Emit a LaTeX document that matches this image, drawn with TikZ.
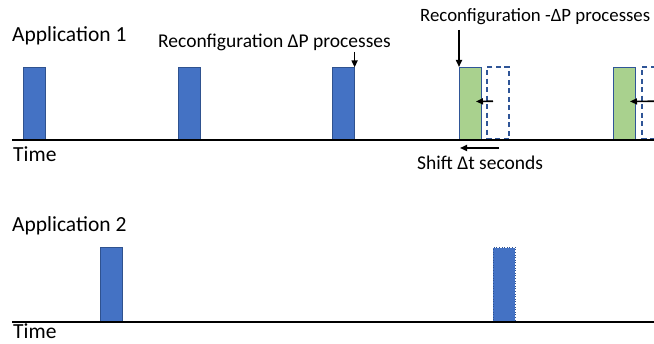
\documentclass[tikz,border=0pt]{standalone}
\usepackage{fontspec}
\setmainfont{Carlito}
\usetikzlibrary{arrows.meta,positioning}
\definecolor{barblue}{HTML}{4472C4}
\definecolor{barline}{HTML}{2F528F}
\definecolor{bargreen}{HTML}{A9D18E}
\definecolor{ghostline}{HTML}{2F5597}
\tikzset{
  bar/.style={fill=barblue, draw=barline, line width=0.6pt,
    minimum width=22pt, minimum height=72pt, inner sep=0pt,
    anchor=south west},
  newbar/.style={bar, fill=bargreen, draw=ghostline, line width=1pt},
  ghostbar/.style={bar, fill=none, draw=ghostline, line width=1.6pt,
    dash pattern=on 5pt off 3.5pt},
  timeline/.style={line width=2.4pt},
  label/.style={font=\fontsize{19.5}{23}\selectfont, inner sep=1pt, anchor=base west},
  title/.style={font=\fontsize{21.5}{26}\selectfont, inner sep=1pt, anchor=base west},
  pointer/.style={line width=1.6pt, -{Triangle[length=7pt, width=6pt]}},
}
\begin{document}
\begin{tikzpicture}[x=1pt, y=-1pt]
  \useasboundingbox (0,0) rectangle (654,344);

  % application 1
  \node[title] (app1) at (11,42) {Application 1};
  \coordinate (t1s) at (12,140);
  \coordinate (t1e) at (660,140);
  \node[bar] (b1) at (23,140) {};
  \node[bar] (b2) at (178,140) {};
  \node[bar] (b3) at (332,140) {};
  \node[ghostbar] (d1) at (486,140) {};
  \node[newbar] (g1) at (459,140) {};
  \node[ghostbar] (d2) at (641,140) {};
  \node[newbar] (g2) at (613,140) {};
  \draw[timeline] (t1s) -- (t1e);
  \node[title] (time1) at (12,162) {Time};

  \node[label] (plus) at (157,48) {Reconfiguration ΔP processes};
  \draw[pointer] ([yshift=-4pt]plus.base -| b3.north east) -- (b3.north east);
  \node[label, font=\fontsize{18.8}{23}\selectfont] (minus) at (419,22) {Reconfiguration -ΔP processes};
  \draw[pointer] ([yshift=-8pt]minus.base -| g1.north west) -- (g1.north west);

  \draw[pointer] ([xshift=7pt, yshift=2pt]d1.west) -- ([xshift=-6pt, yshift=2pt]g1.east);
  \draw[pointer] ([xshift=16pt, yshift=2pt]d2.west) -- ([xshift=-6pt, yshift=2pt]g2.east);

  \coordinate (sh1) at (499,148);
  \coordinate (sh2) at (460,148);
  \draw[pointer] (sh1) -- (sh2);
  \node[label] (shift) at (416,170) {Shift Δt seconds};

  % application 2
  \node[title] (app2) at (11,232) {Application 2};
  \coordinate (t2s) at (12,322);
  \coordinate (t2e) at (660,322);
  \node[bar, minimum height=74pt] (c1) at (100,322) {};
  \node[bar, minimum height=74pt, dotted] (c2) at (493,322) {};
  \draw[timeline] (t2s) -- (t2e);
  \node[title] (time2) at (12,339) {Time};
\end{tikzpicture}
\end{document}
